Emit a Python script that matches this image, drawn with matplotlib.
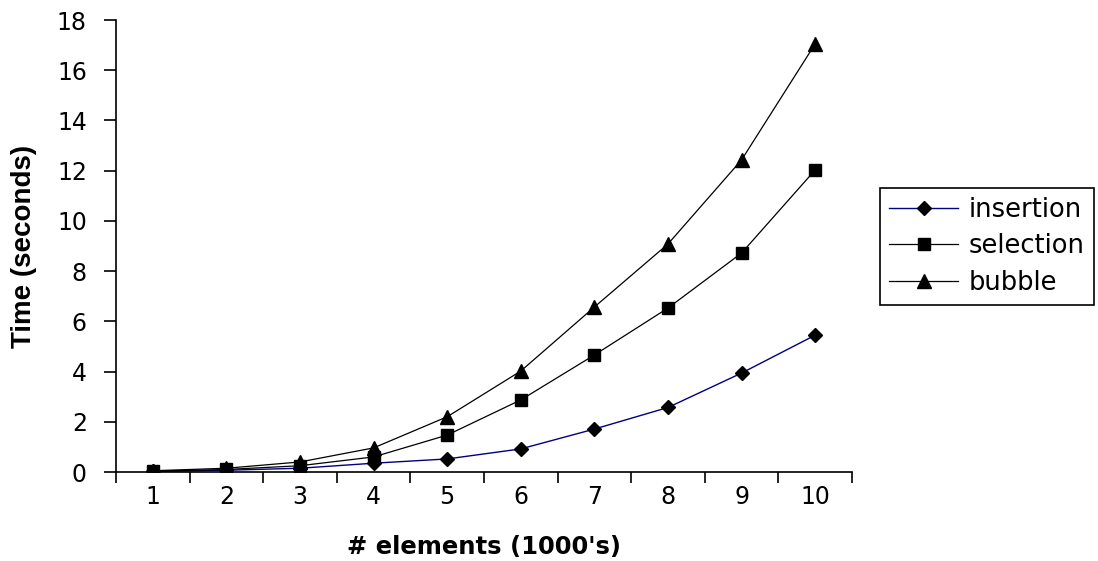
import numpy as np
import matplotlib.pyplot as plt
import matplotlib.ticker as mtick

# datos
n_elements = [1, 2, 3, 4, 5, 6, 7, 8, 9, 10]
insertion = [0.02, 0.07, 0.15, 0.35, 0.52, 0.92, 1.71, 2.57, 3.94, 5.45]
selection = [0.03, 0.10, 0.25, 0.60, 1.47, 2.87, 4.66, 6.53, 8.72, 12.03]
bubble = [0.05, 0.15, 0.40, 0.96, 2.20, 4.02, 6.57, 9.08, 12.43, 17.05]
y_ticks = [0, 2, 4, 6, 8, 10, 12, 14, 16, 18]

plt.rcParams['font.family'] = ['DejaVu Sans']

fig = plt.figure(figsize=(10.98, 5.61), dpi=100)
ax = fig.add_axes([116 / 1098, 1 - 472 / 561, 736 / 1098, 452 / 561])

ax.plot(n_elements, insertion, color='#000080', lw=1.0, marker='D', ms=7.5,
        mfc='black', mec='black', label='insertion')
ax.plot(n_elements, selection, color='black', lw=0.9, marker='s', ms=8.5,
        mfc='black', mec='black', label='selection')
ax.plot(n_elements, bubble, color='black', lw=0.9, marker='^', ms=10,
        mfc='black', mec='black', label='bubble')

ax.set_xlim(0.5, 10.5)
ax.set_ylim(0, 18)
ax.set_yticks(y_ticks)

# marcas entre categorias, etiquetas en el centro
ax.xaxis.set_major_locator(mtick.FixedLocator(np.arange(0.5, 11, 1)))
ax.xaxis.set_major_formatter(mtick.NullFormatter())
ax.xaxis.set_minor_locator(mtick.FixedLocator(n_elements))
ax.xaxis.set_minor_formatter(mtick.FixedFormatter([str(v) for v in n_elements]))
ax.tick_params(axis='x', which='major', length=8, width=1.2, direction='out')
ax.tick_params(axis='x', which='minor', length=0, pad=9, labelsize=17)
ax.tick_params(axis='y', length=9, width=1.2, direction='out', pad=12, labelsize=17)

for side in ['top', 'right']:
    ax.spines[side].set_visible(False)
for side in ['left', 'bottom']:
    ax.spines[side].set_linewidth(1.2)

ax.set_xlabel("# elements (1000's)", fontsize=17.5, fontweight='bold', labelpad=19)
ax.set_ylabel('Time (seconds)', fontsize=20, fontweight='bold', labelpad=14,
              family=['Liberation Sans'])

leg = ax.legend(loc='upper left', bbox_to_anchor=(880 / 1098, 1 - 188 / 561),
                bbox_transform=fig.transFigure, borderaxespad=0, fancybox=False,
                framealpha=1, edgecolor='black', fontsize=18.5, handlelength=2.7,
                handletextpad=0.4, labelspacing=0.4, borderpad=0.35)
leg.get_frame().set_linewidth(1.2)

fig.savefig('out.png', dpi=100)
